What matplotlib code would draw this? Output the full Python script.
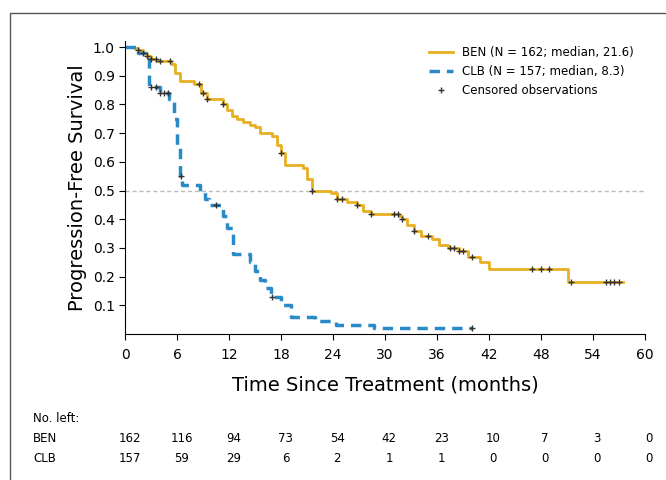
import matplotlib.pyplot as plt
import matplotlib.transforms as mtransforms
from matplotlib.patches import Rectangle

ben_t = [0, 1.0, 1.5, 2.0, 2.5, 3.0, 3.6, 5.3, 5.8, 6.3, 8.0, 8.8, 9.5, 11.3, 11.8, 12.3, 12.9, 13.6, 14.4,
         15.0, 15.6, 17, 17.5, 18, 18.5, 20.5, 21.0, 21.6, 23.8, 24.5, 25.6, 26.8, 27.5, 28.4, 31, 31.6, 32,
         32.6, 33.3, 34.2, 35.4, 36.3, 37.3, 38.5, 39.6, 41, 42, 51.2, 57.5]
ben_s = [1.0, 0.995, 0.99, 0.98, 0.97, 0.96, 0.95, 0.94, 0.91, 0.88, 0.87, 0.84, 0.82, 0.80, 0.78, 0.76,
         0.75, 0.74, 0.73, 0.72, 0.70, 0.69, 0.66, 0.63, 0.59, 0.58, 0.54, 0.50, 0.49, 0.47, 0.46, 0.45,
         0.43, 0.42, 0.42, 0.41, 0.40, 0.38, 0.36, 0.34, 0.33, 0.31, 0.30, 0.29, 0.27, 0.25, 0.225, 0.18, 0.18]
clb_t = [0, 1.5, 2.4, 2.8, 4, 5.1, 5.6, 6.0, 6.3, 6.6, 8.6, 9.2, 9.7, 11.3, 11.8, 12.4, 14.4, 15.0, 15.6,
         16.2, 16.8, 18, 19.1, 21.9, 24.3, 28.7, 40]
clb_s = [1.0, 0.98, 0.97, 0.86, 0.84, 0.82, 0.75, 0.65, 0.55, 0.52, 0.50, 0.47, 0.45, 0.41, 0.37, 0.28,
         0.25, 0.22, 0.19, 0.16, 0.13, 0.10, 0.06, 0.045, 0.03, 0.02, 0.02]
ben_cens = [1.5, 2, 2.5, 3, 3.5, 4, 5.2, 8.5, 9, 9.5, 11.3, 18, 21.6, 24.5, 25, 26.8, 28.4, 31, 31.5,
            32, 33.3, 35, 37.5, 38, 38.5, 39, 40, 47, 48, 49, 51.5, 55.5, 56, 56.5, 57]
clb_cens = [3, 3.5, 4, 4.5, 5, 6.5, 10.5, 17, 40]

ticks = [0, 6, 12, 18, 24, 30, 36, 42, 48, 54, 60]
ben_left = [162, 116, 94, 73, 54, 42, 23, 10, 7, 3, 0]
clb_left = [157, 59, 29, 6, 2, 1, 1, 0, 0, 0, 0]


def surv_at(ts, ss, x):
    v = ss[0]
    for t, s in zip(ts, ss):
        if t <= x:
            v = s
    return v


fig = plt.figure(figsize=(6.66, 4.8), dpi=100)
fig.patches.append(Rectangle((0.015, -0.1), 1.2, 1.073, transform=fig.transFigure,
                             fill=False, ec='#555555', lw=1))
ax = fig.add_axes([0.188, 0.304, 0.78, 0.61])

ax.axhline(0.5, color='#bbbbbb', ls='--', lw=1, dashes=(3, 2))
ben_line, = ax.step(ben_t, ben_s, where='post', color='#e8b020', lw=2)
clb_line, = ax.step(clb_t, clb_s, where='post', color='#2a8ac8', lw=2.5, ls='--', dashes=(3, 2))
ax.plot(ben_cens, [surv_at(ben_t, ben_s, x) for x in ben_cens], '+', color='#333333', ms=5, mew=1)
cens, = ax.plot(clb_cens, [surv_at(clb_t, clb_s, x) for x in clb_cens], '+', color='#333333', ms=5, mew=1)

ax.set_xlim(0, 60)
ax.set_ylim(0, 1.02)
ax.set_xticks(ticks)
ax.set_yticks([0.1, 0.2, 0.3, 0.4, 0.5, 0.6, 0.7, 0.8, 0.9, 1.0])
ax.tick_params(labelsize=10, direction='out', length=4)
ax.tick_params(axis='x', pad=6)
for s in ['top', 'right']:
    ax.spines[s].set_visible(False)
ax.set_xlabel('Time Since Treatment (months)', fontsize=14, labelpad=10)
ax.set_ylabel('Progression-Free Survival', fontsize=14)
ax.legend([ben_line, clb_line, cens],
          ['BEN (N = 162; median, 21.6)', 'CLB (N = 157; median, 8.3)', 'Censored observations'],
          loc='upper right', frameon=False, fontsize=8.5, bbox_to_anchor=(1.0, 1.02))

trans = mtransforms.blended_transform_factory(ax.transData, fig.transFigure)
fig.text(0.05, 0.12, 'No. left:', fontsize=8.5)
fig.text(0.05, 0.08, 'BEN', fontsize=8.5)
fig.text(0.05, 0.038, 'CLB', fontsize=8.5)
for x, b, c in zip(ticks, ben_left, clb_left):
    ax.text(x + 0.5, 0.08, str(b), transform=trans, fontsize=8.5, ha='center', clip_on=False)
    ax.text(x + 0.5, 0.038, str(c), transform=trans, fontsize=8.5, ha='center', clip_on=False)

plt.savefig('out.png', dpi=100)
